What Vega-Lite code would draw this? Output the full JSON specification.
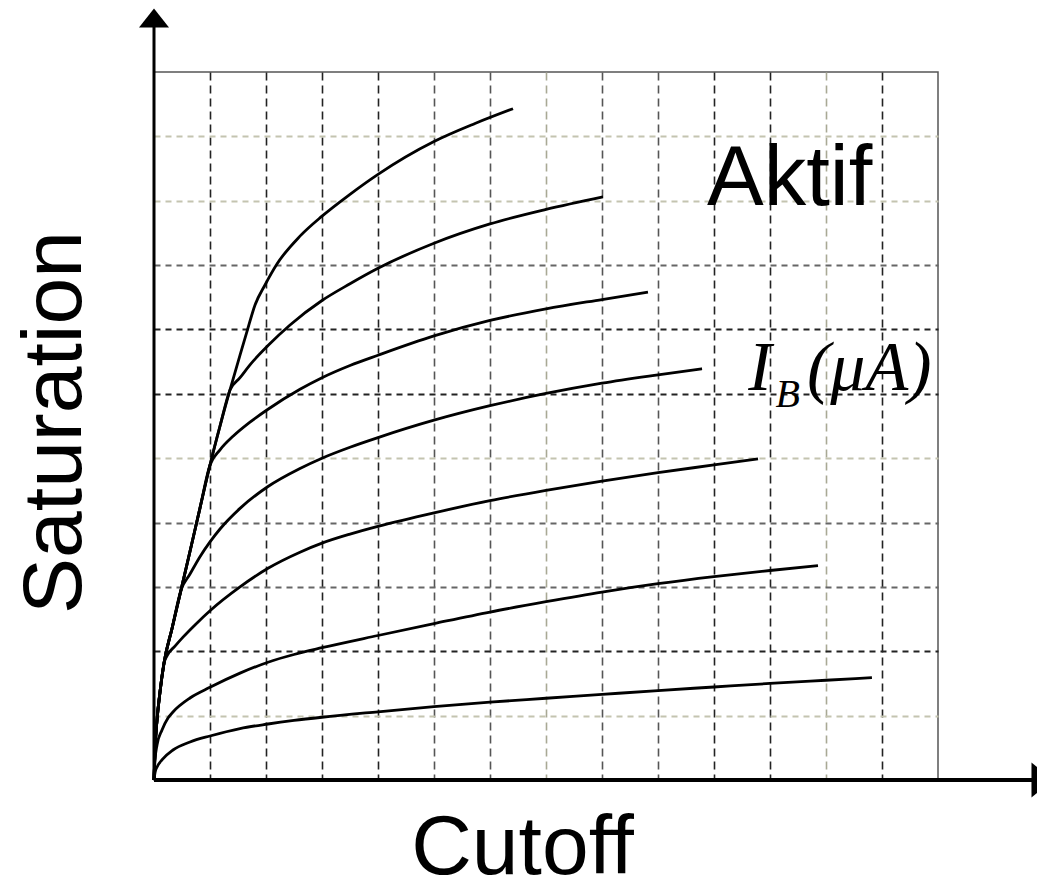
{
  "$schema": "https://vega.github.io/schema/vega-lite/v6.json",
  "width": 784,
  "height": 708,
  "autosize": {"type": "none"},
  "padding": {"left": 154, "top": 72, "right": 99, "bottom": 101},
  "background": "white",
  "config": {"view": {"stroke": "#555555", "strokeWidth": 1.5}, "font": "Liberation Sans"},
  "datasets": {
    "curves": [
      {"curve": "c7", "vce": 0, "ic": 0}, {"curve": "c7", "vce": 0.02, "ic": 0.12}, {"curve": "c7", "vce": 0.06, "ic": 0.21}, {"curve": "c7", "vce": 0.15, "ic": 0.32}, {"curve": "c7", "vce": 0.339, "ic": 0.466}, {"curve": "c7", "vce": 0.643, "ic": 0.59}, {"curve": "c7", "vce": 1.0, "ic": 0.684}, {"curve": "c7", "vce": 1.536, "ic": 0.8}, {"curve": "c7", "vce": 2.036, "ic": 0.87}, {"curve": "c7", "vce": 2.5, "ic": 0.925}, {"curve": "c7", "vce": 3, "ic": 0.975}, {"curve": "c7", "vce": 4, "ic": 1.06}, {"curve": "c7", "vce": 5, "ic": 1.14}, {"curve": "c7", "vce": 6, "ic": 1.21}, {"curve": "c7", "vce": 7, "ic": 1.27}, {"curve": "c7", "vce": 8, "ic": 1.33}, {"curve": "c7", "vce": 9, "ic": 1.39}, {"curve": "c7", "vce": 10, "ic": 1.445}, {"curve": "c7", "vce": 11, "ic": 1.5}, {"curve": "c7", "vce": 12, "ic": 1.55}, {"curve": "c7", "vce": 12.82, "ic": 1.59},

      {"curve": "c6", "vce": 0, "ic": 0}, {"curve": "c6", "vce": 0.018, "ic": 0.311}, {"curve": "c6", "vce": 0.054, "ic": 0.544}, {"curve": "c6", "vce": 0.143, "ic": 0.777}, {"curve": "c6", "vce": 0.25, "ic": 0.963}, {"curve": "c6", "vce": 0.339, "ic": 1.057}, {"curve": "c6", "vce": 0.643, "ic": 1.274}, {"curve": "c6", "vce": 1.0, "ic": 1.44}, {"curve": "c6", "vce": 1.536, "ic": 1.66}, {"curve": "c6", "vce": 2.036, "ic": 1.83}, {"curve": "c6", "vce": 2.5, "ic": 1.95}, {"curve": "c6", "vce": 3, "ic": 2.055}, {"curve": "c6", "vce": 4, "ic": 2.245}, {"curve": "c6", "vce": 5, "ic": 2.43}, {"curve": "c6", "vce": 6, "ic": 2.61}, {"curve": "c6", "vce": 7, "ic": 2.77}, {"curve": "c6", "vce": 8, "ic": 2.92}, {"curve": "c6", "vce": 9, "ic": 3.05}, {"curve": "c6", "vce": 10, "ic": 3.16}, {"curve": "c6", "vce": 11, "ic": 3.255}, {"curve": "c6", "vce": 11.857, "ic": 3.33},

      {"curve": "c5", "vce": 0, "ic": 0}, {"curve": "c5", "vce": 0.018, "ic": 0.466}, {"curve": "c5", "vce": 0.054, "ic": 0.932}, {"curve": "c5", "vce": 0.107, "ic": 1.367}, {"curve": "c5", "vce": 0.179, "ic": 1.818}, {"curve": "c5", "vce": 0.232, "ic": 1.93}, {"curve": "c5", "vce": 0.375, "ic": 2.08}, {"curve": "c5", "vce": 0.518, "ic": 2.22}, {"curve": "c5", "vce": 0.732, "ic": 2.41}, {"curve": "c5", "vce": 1.0, "ic": 2.63}, {"curve": "c5", "vce": 1.536, "ic": 3.0}, {"curve": "c5", "vce": 2.036, "ic": 3.29}, {"curve": "c5", "vce": 2.607, "ic": 3.54}, {"curve": "c5", "vce": 3, "ic": 3.68}, {"curve": "c5", "vce": 3.5, "ic": 3.82}, {"curve": "c5", "vce": 4, "ic": 3.94}, {"curve": "c5", "vce": 5, "ic": 4.15}, {"curve": "c5", "vce": 6, "ic": 4.34}, {"curve": "c5", "vce": 7, "ic": 4.5}, {"curve": "c5", "vce": 8, "ic": 4.645}, {"curve": "c5", "vce": 9, "ic": 4.775}, {"curve": "c5", "vce": 10, "ic": 4.895}, {"curve": "c5", "vce": 10.786, "ic": 4.99},

      {"curve": "c4", "vce": 0, "ic": 0}, {"curve": "c4", "vce": 0.018, "ic": 0.466}, {"curve": "c4", "vce": 0.054, "ic": 0.932}, {"curve": "c4", "vce": 0.107, "ic": 1.367}, {"curve": "c4", "vce": 0.179, "ic": 1.818}, {"curve": "c4", "vce": 0.321, "ic": 2.35}, {"curve": "c4", "vce": 0.482, "ic": 2.95}, {"curve": "c4", "vce": 0.643, "ic": 3.2}, {"curve": "c4", "vce": 0.821, "ic": 3.47}, {"curve": "c4", "vce": 1.0, "ic": 3.7}, {"curve": "c4", "vce": 1.179, "ic": 3.9}, {"curve": "c4", "vce": 1.536, "ic": 4.22}, {"curve": "c4", "vce": 2.036, "ic": 4.56}, {"curve": "c4", "vce": 2.607, "ic": 4.84}, {"curve": "c4", "vce": 3, "ic": 5.0}, {"curve": "c4", "vce": 3.5, "ic": 5.17}, {"curve": "c4", "vce": 4, "ic": 5.32}, {"curve": "c4", "vce": 5, "ic": 5.59}, {"curve": "c4", "vce": 6, "ic": 5.815}, {"curve": "c4", "vce": 7, "ic": 6.005}, {"curve": "c4", "vce": 8, "ic": 6.165}, {"curve": "c4", "vce": 9, "ic": 6.295}, {"curve": "c4", "vce": 9.786, "ic": 6.39},

      {"curve": "c3", "vce": 0, "ic": 0}, {"curve": "c3", "vce": 0.018, "ic": 0.466}, {"curve": "c3", "vce": 0.054, "ic": 0.932}, {"curve": "c3", "vce": 0.107, "ic": 1.367}, {"curve": "c3", "vce": 0.179, "ic": 1.818}, {"curve": "c3", "vce": 0.321, "ic": 2.35}, {"curve": "c3", "vce": 0.482, "ic": 2.95}, {"curve": "c3", "vce": 0.661, "ic": 3.62}, {"curve": "c3", "vce": 0.821, "ic": 4.225}, {"curve": "c3", "vce": 1.0, "ic": 4.894}, {"curve": "c3", "vce": 1.179, "ic": 5.13}, {"curve": "c3", "vce": 1.411, "ic": 5.34}, {"curve": "c3", "vce": 1.714, "ic": 5.56}, {"curve": "c3", "vce": 2.036, "ic": 5.76}, {"curve": "c3", "vce": 2.607, "ic": 6.07}, {"curve": "c3", "vce": 3, "ic": 6.25}, {"curve": "c3", "vce": 3.5, "ic": 6.44}, {"curve": "c3", "vce": 4, "ic": 6.6}, {"curve": "c3", "vce": 5, "ic": 6.9}, {"curve": "c3", "vce": 6, "ic": 7.14}, {"curve": "c3", "vce": 7, "ic": 7.32}, {"curve": "c3", "vce": 8, "ic": 7.465}, {"curve": "c3", "vce": 8.821, "ic": 7.58},

      {"curve": "c2", "vce": 0, "ic": 0}, {"curve": "c2", "vce": 0.018, "ic": 0.466}, {"curve": "c2", "vce": 0.054, "ic": 0.932}, {"curve": "c2", "vce": 0.107, "ic": 1.367}, {"curve": "c2", "vce": 0.179, "ic": 1.818}, {"curve": "c2", "vce": 0.321, "ic": 2.35}, {"curve": "c2", "vce": 0.482, "ic": 2.95}, {"curve": "c2", "vce": 0.661, "ic": 3.62}, {"curve": "c2", "vce": 0.821, "ic": 4.225}, {"curve": "c2", "vce": 1.0, "ic": 4.894}, {"curve": "c2", "vce": 1.179, "ic": 5.5}, {"curve": "c2", "vce": 1.357, "ic": 6.06}, {"curve": "c2", "vce": 1.536, "ic": 6.25}, {"curve": "c2", "vce": 1.714, "ic": 6.45}, {"curve": "c2", "vce": 2.036, "ic": 6.75}, {"curve": "c2", "vce": 2.429, "ic": 7.07}, {"curve": "c2", "vce": 3, "ic": 7.45}, {"curve": "c2", "vce": 3.5, "ic": 7.71}, {"curve": "c2", "vce": 4, "ic": 7.95}, {"curve": "c2", "vce": 5, "ic": 8.34}, {"curve": "c2", "vce": 6, "ic": 8.64}, {"curve": "c2", "vce": 7, "ic": 8.865}, {"curve": "c2", "vce": 8.018, "ic": 9.06},

      {"curve": "c1", "vce": 0, "ic": 0}, {"curve": "c1", "vce": 0.018, "ic": 0.466}, {"curve": "c1", "vce": 0.054, "ic": 0.932}, {"curve": "c1", "vce": 0.107, "ic": 1.367}, {"curve": "c1", "vce": 0.179, "ic": 1.818}, {"curve": "c1", "vce": 0.321, "ic": 2.35}, {"curve": "c1", "vce": 0.482, "ic": 2.95}, {"curve": "c1", "vce": 0.661, "ic": 3.62}, {"curve": "c1", "vce": 0.821, "ic": 4.225}, {"curve": "c1", "vce": 1.0, "ic": 4.894}, {"curve": "c1", "vce": 1.179, "ic": 5.5}, {"curve": "c1", "vce": 1.357, "ic": 6.06}, {"curve": "c1", "vce": 1.536, "ic": 6.6}, {"curve": "c1", "vce": 1.661, "ic": 6.97}, {"curve": "c1", "vce": 1.804, "ic": 7.38}, {"curve": "c1", "vce": 1.982, "ic": 7.691}, {"curve": "c1", "vce": 2.196, "ic": 8.017}, {"curve": "c1", "vce": 2.607, "ic": 8.45}, {"curve": "c1", "vce": 3, "ic": 8.76}, {"curve": "c1", "vce": 3.5, "ic": 9.1}, {"curve": "c1", "vce": 4, "ic": 9.41}, {"curve": "c1", "vce": 5, "ic": 9.92}, {"curve": "c1", "vce": 5.732, "ic": 10.2}, {"curve": "c1", "vce": 6.411, "ic": 10.43}
    ]
  },
  "layer": [
    {
      "data": {"name": "curves"},
      "mark": {"type": "line", "color": "black", "strokeWidth": 2.8, "interpolate": "monotone"},
      "encoding": {
        "x": {
          "field": "vce", "type": "quantitative",
          "scale": {"domain": [0, 14], "nice": false, "zero": false},
          "axis": {
            "values": [1, 2, 3, 4, 5, 6, 7, 8, 9, 10, 11, 12, 13],
            "labels": false, "ticks": false, "domain": false, "grid": true,
            "gridDash": [8, 5], "gridWidth": 1.6,
            "gridColor": {"condition": [{"test": "datum.value === 7 || datum.value === 12", "value": "#a9a995"}, {"test": "datum.value === 5 || datum.value === 6 || datum.value === 8 || datum.value === 9", "value": "#555555"}], "value": "#222222"},
            "title": "Cutoff", "titleFont": "Liberation Sans", "titleFontSize": 84, "titleFontWeight": "normal", "titleColor": "black",
            "titleX": 368, "titleY": 93, "titleAlign": "center", "titleBaseline": "alphabetic"
          }
        },
        "y": {
          "field": "ic", "type": "quantitative",
          "scale": {"domain": [0, 11], "nice": false, "zero": false},
          "axis": {
            "values": [1, 2, 3, 4, 5, 6, 7, 8, 9, 10],
            "labels": false, "ticks": false, "domain": false, "grid": true,
            "gridDash": [6, 5], "gridWidth": 1.8,
            "gridColor": {"condition": [{"test": "datum.value === 1 || datum.value === 5 || datum.value === 9 || datum.value === 10", "value": "#c4c4b0"}, {"test": "datum.value === 3 || datum.value === 4 || datum.value === 8", "value": "#666666"}], "value": "#222222"},
            "title": "Saturation", "titleFont": "Liberation Sans", "titleFontSize": 84, "titleFontWeight": "normal", "titleColor": "black",
            "titleAngle": -90, "titleX": -74, "titleY": 350, "titleAlign": "center", "titleBaseline": "alphabetic"
          }
        },
        "detail": {"field": "curve"}
      }
    },
    {
      "data": {"values": [{}]},
      "mark": {"type": "rule", "color": "black", "strokeWidth": 3},
      "encoding": {"x": {"datum": 0}, "y": {"datum": 0}, "y2": {"datum": 11.7}}
    },
    {
      "data": {"values": [{}]},
      "mark": {"type": "rule", "color": "black", "strokeWidth": 4},
      "encoding": {"x": {"datum": 0}, "x2": {"datum": 15.7}, "y": {"datum": 0}}
    },
    {
      "data": {"values": [{}]},
      "mark": {"type": "point", "shape": "M-1,0.63L1,0.63L0,-0.63Z", "filled": true, "color": "black", "opacity": 1, "size": 900, "strokeWidth": 0},
      "encoding": {"x": {"datum": 0}, "y": {"datum": 11.84}}
    },
    {
      "data": {"values": [{}]},
      "mark": {"type": "point", "shape": "M-0.63,-1L0.63,0L-0.63,1Z", "filled": true, "color": "black", "opacity": 1, "size": 1225, "strokeWidth": 0},
      "encoding": {"x": {"datum": 15.866}, "y": {"datum": 0}}
    },
    {
      "data": {"values": [{"label": "Aktif", "lx": 9.875, "ly": 8.93}]},
      "mark": {"type": "text", "font": "Liberation Sans", "fontSize": 85, "align": "left", "baseline": "alphabetic", "color": "black"},
      "encoding": {"x": {"field": "lx", "type": "quantitative"}, "y": {"field": "ly", "type": "quantitative"}, "text": {"field": "label"}}
    },
    {
      "data": {"values": [{"label": "I", "lx": 10.61, "ly": 6.06}, {"label": "(μA)", "lx": 11.66, "ly": 6.06}]},
      "mark": {"type": "text", "font": "Liberation Serif", "fontStyle": "italic", "fontSize": 70, "align": "left", "baseline": "alphabetic", "color": "black"},
      "encoding": {"x": {"field": "lx", "type": "quantitative"}, "y": {"field": "ly", "type": "quantitative"}, "text": {"field": "label"}}
    },
    {
      "data": {"values": [{"label": "B", "lx": 11.1, "ly": 5.8}]},
      "mark": {"type": "text", "font": "Liberation Serif", "fontStyle": "italic", "fontSize": 40, "align": "left", "baseline": "alphabetic", "color": "black"},
      "encoding": {"x": {"field": "lx", "type": "quantitative"}, "y": {"field": "ly", "type": "quantitative"}, "text": {"field": "label"}}
    }
  ]
}
